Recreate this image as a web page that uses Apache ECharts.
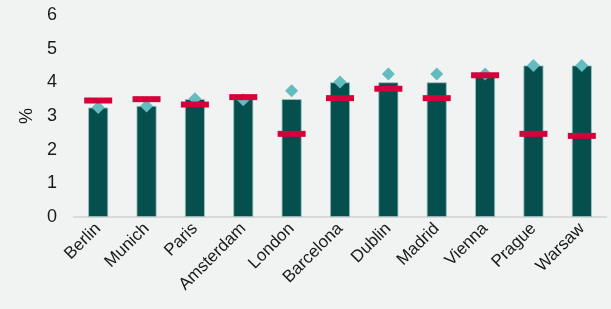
<!DOCTYPE html>
<html>
<head>
<meta charset="utf-8">
<script src="https://cdn.jsdelivr.net/npm/echarts@6/dist/echarts.min.js"></script>
<style>
  html, body { margin: 0; padding: 0; background: #f0f3f2; }
  #chart { width: 611px; height: 309px; }
</style>
</head>
<body>
<div id="chart"></div>
<script>
// cities on the x axis
const cities = ['Berlin', 'Munich', 'Paris', 'Amsterdam', 'London', 'Barcelona', 'Dublin', 'Madrid', 'Vienna', 'Prague', 'Warsaw']
// bar values (%)
const barValues = [3.25, 3.3, 3.5, 3.5, 3.5, 4.0, 4.0, 4.0, 4.2, 4.5, 4.5]
// red dash markers (%)
const dashValues = [3.46, 3.5, 3.34, 3.56, 2.47, 3.53, 3.81, 3.53, 4.21, 2.47, 2.41]
// light teal diamonds (%)
const diamondValues = [3.25, 3.3, 3.51, 3.48, 3.75, 4.01, 4.25, 4.25, 4.25, 4.5, 4.5]

let myChart = echarts.init(document.getElementById('chart'))
let option = {
  backgroundColor: '#f0f3f2',
  animation: false,
  grid: {
    left: 74,
    right: 5,
    top: 15,
    bottom: 92
  },
  xAxis: {
    type: 'category',
    data: cities,
    axisLine: { lineStyle: { color: '#d9d9d9', width: 2 } },
    axisTick: { show: false },
    axisLabel: {
      rotate: 45,
      color: '#1a1a1a',
      fontFamily: 'Liberation Sans',
      fontSize: 17,
      margin: 9,
      interval: 0
    }
  },
  yAxis: {
    type: 'value',
    min: 0,
    max: 6,
    interval: 1,
    name: '%',
    nameLocation: 'middle',
    nameGap: 33,
    nameRotate: 90,
    nameTextStyle: { color: '#1a1a1a', fontFamily: 'Liberation Sans', fontSize: 18 },
    axisLine: { show: false },
    axisTick: { show: false },
    splitLine: { show: false },
    axisLabel: {
      color: '#1a1a1a',
      fontFamily: 'Liberation Sans',
      fontSize: 18,
      margin: 17
    }
  },
  series: [
    {
      type: 'bar',
      data: barValues,
      barWidth: 20,
      itemStyle: {
        color: '#054f4f',
        borderColor: '#9cc4c2',
        borderWidth: 0.8
      },
      z: 1
    },
    {
      type: 'scatter',
      data: diamondValues,
      symbol: 'diamond',
      symbolSize: [13, 13],
      itemStyle: { color: '#63bcbf', opacity: 1 },
      z: 2
    },
    {
      type: 'scatter',
      data: dashValues,
      symbol: 'rect',
      symbolSize: [28, 6],
      itemStyle: { color: '#d6003a', opacity: 1 },
      z: 3
    }
  ]
}
myChart.setOption(option)
</script>
</body>
</html>
